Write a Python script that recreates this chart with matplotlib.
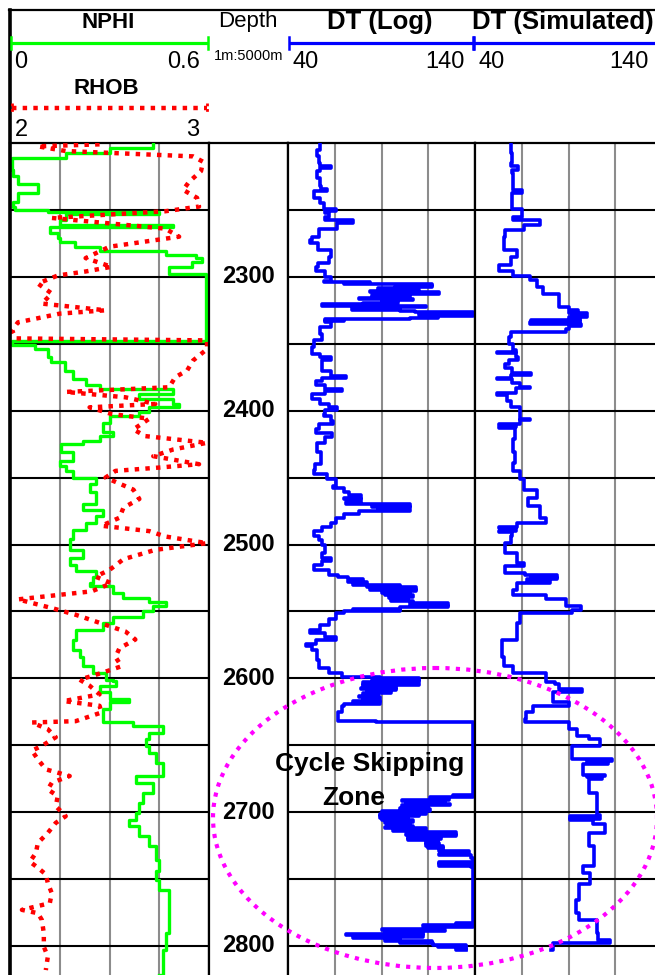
import matplotlib
matplotlib.use("Agg")
import matplotlib.pyplot as plt
from matplotlib.patches import Ellipse
from matplotlib.transforms import blended_transform_factory

plt.rcParams['font.family'] = ['Liberation Sans', 'DejaVu Sans']

# ---------------------------------------------------------------- data
# NPHI (v/v)
nphi_depth = [2201, 2204, 2207.5, 2211, 2220, 2225, 2231, 2237.5, 2244, 2247.5,
              2250, 2251.5, 2253, 2257.5, 2261, 2263, 2267.5, 2271, 2274, 2277.5,
              2281, 2284, 2286, 2289, 2292.5, 2296, 2298, 2347.5, 2348, 2351,
              2354, 2360, 2364, 2370, 2376, 2381, 2384, 2387.5, 2391, 2395,
              2397.5, 2401, 2404, 2409, 2416, 2419, 2422.5, 2425, 2431, 2437.5,
              2441, 2445, 2450, 2455, 2461, 2470, 2474, 2479, 2484, 2489,
              2496, 2504, 2510, 2515, 2520, 2524, 2529, 2531, 2536, 2540,
              2543, 2546, 2550, 2554, 2559, 2564, 2571, 2579, 2584, 2591,
              2596, 2601, 2602, 2605.5, 2610.5, 2615.5, 2618, 2623, 2628, 2633,
              2635.5, 2640.5, 2645.5, 2650.5, 2655.5, 2663, 2673, 2678, 2685.5, 2693,
              2700.5, 2705.5, 2710.5, 2718, 2725.5, 2735.5, 2744, 2750.5, 2758, 2770.5,
              2780.5, 2790.5, 2803, 2822]
nphi_value = [0.43, 0.30, 0.17, 0.005, 0.01, 0.025, 0.085, 0.025, 0.01, 0.015,
              0.115, 0.45, 0.17, 0.15, 0.49, 0.12, 0.145, 0.15, 0.195, 0.27,
              0.47, 0.56, 0.58, 0.55, 0.48, 0.48, 0.59, 0.59, 0.005, 0.075,
              0.115, 0.125, 0.165, 0.19, 0.23, 0.27, 0.49, 0.39, 0.49, 0.51,
              0.42, 0.39, 0.30, 0.28, 0.31, 0.27, 0.22, 0.155, 0.19, 0.15,
              0.17, 0.19, 0.26, 0.24, 0.26, 0.22, 0.28, 0.26, 0.23, 0.19,
              0.18, 0.22, 0.18, 0.20, 0.26, 0.25, 0.24, 0.31, 0.34, 0.42,
              0.47, 0.43, 0.40, 0.31, 0.28, 0.20, 0.19, 0.21, 0.22, 0.25,
              0.29, 0.31, 0.32, 0.27, 0.30, 0.36, 0.30, 0.28, 0.28, 0.37,
              0.46, 0.42, 0.41, 0.42, 0.44, 0.46, 0.38, 0.43, 0.40, 0.39,
              0.38, 0.36, 0.39, 0.42, 0.44, 0.45, 0.44, 0.45, 0.48, 0.48,
              0.48, 0.47, 0.46, 0.45]

# RHOB (g/cc)
rhob_depth = [2201, 2202.5, 2206, 2210, 2214, 2221, 2229, 2235, 2241, 2247.5,
              2251, 2256, 2264, 2270, 2277.5, 2286, 2292.5, 2296, 2299, 2305,
              2312.5, 2320, 2325, 2327.5, 2334, 2340, 2346, 2347.5, 2354, 2362.5,
              2370, 2375, 2382.5, 2386, 2390, 2395, 2397.5, 2402.5, 2406, 2414,
              2419, 2424, 2429, 2434, 2440, 2442.5, 2445, 2450, 2459, 2466,
              2472.5, 2480, 2486, 2490, 2494, 2499, 2504, 2511, 2519, 2524,
              2529, 2535, 2541, 2547.5, 2552.5, 2559, 2565, 2571, 2577.5, 2584,
              2591, 2596, 2601, 2605.5, 2612, 2617, 2620.5, 2625.5, 2632, 2633,
              2638, 2644, 2650.5, 2654, 2660.5, 2668, 2673, 2678, 2683, 2688,
              2695.5, 2703, 2708, 2715.5, 2723, 2730.5, 2737, 2741.5, 2746.5, 2753,
              2760.5, 2768, 2773, 2775.5, 2780.5, 2790.5, 2800.5, 2808, 2818]
rhob_value = [2.45, 2.14, 2.28, 2.92, 2.97, 2.96, 2.90, 2.87, 2.94, 2.95,
              2.78, 2.21, 2.78, 2.85, 2.50, 2.38, 2.51, 2.38, 2.24, 2.14,
              2.21, 2.16, 2.48, 2.25, 2.04, 2.01, 2.03, 2.99, 2.99, 2.92,
              2.89, 2.83, 2.80, 2.28, 2.58, 2.73, 2.40, 2.51, 2.70, 2.62,
              2.68, 2.99, 2.82, 2.72, 2.95, 2.75, 2.53, 2.48, 2.62, 2.65,
              2.57, 2.55, 2.46, 2.70, 2.78, 2.99, 2.73, 2.57, 2.50, 2.43,
              2.51, 2.41, 2.04, 2.21, 2.33, 2.46, 2.58, 2.63, 2.55, 2.53,
              2.56, 2.46, 2.35, 2.40, 2.45, 2.27, 2.45, 2.46, 2.33, 2.11,
              2.19, 2.23, 2.16, 2.11, 2.14, 2.18, 2.30, 2.21, 2.19, 2.24,
              2.23, 2.28, 2.23, 2.19, 2.14, 2.13, 2.10, 2.14, 2.18, 2.19,
              2.21, 2.20, 2.06, 2.14, 2.16, 2.17, 2.17, 2.19, 2.18]

# DT from the sonic log (us/ft)
dt_log_depth = [2201, 2205, 2210, 2215, 2217, 2219, 2221, 2226, 2232, 2234,
                2235.5, 2237.5, 2241, 2245, 2249, 2250.5, 2252.5, 2255.5, 2257.5, 2259.5,
                2261, 2264, 2270, 2272.5, 2275, 2280, 2285, 2290, 2292.5, 2296,
                2300, 2303, 2304, 2304.5, 2305, 2306, 2306.5, 2307.5, 2308.5, 2309.5,
                2310.5, 2311.5, 2312.5, 2313.5, 2314.5, 2315.5, 2316.5, 2317.5, 2318.5, 2319.5,
                2320.5, 2321.5, 2322.5, 2323.5, 2324.5, 2325.5, 2326.5, 2327.5, 2328.5, 2329.5,
                2330.5, 2331.5, 2332, 2333, 2334, 2337.5, 2342.5, 2347.5, 2352.5, 2357.5,
                2360, 2362, 2365, 2370, 2374, 2375.5, 2377.5, 2381, 2384, 2385.5,
                2387.5, 2391, 2395, 2397.5, 2399.5, 2402.5, 2404, 2408, 2410, 2414,
                2417, 2420, 2424, 2431, 2440, 2444, 2447.5, 2451, 2456, 2458,
                2461, 2463, 2465, 2466, 2468, 2470, 2471, 2472, 2473, 2474,
                2475, 2477, 2480, 2484, 2487, 2490, 2494, 2497, 2500, 2506,
                2510, 2512, 2515, 2519, 2522.5, 2524, 2526, 2527, 2528, 2529,
                2530, 2531, 2532, 2533, 2534, 2535, 2536, 2537, 2538, 2539,
                2540, 2541, 2542, 2543, 2544, 2545, 2546, 2547, 2548, 2549,
                2550, 2551, 2556, 2560, 2564, 2566, 2569, 2571, 2574, 2576,
                2579, 2586, 2592.5, 2596, 2599, 2600, 2601, 2602, 2603, 2604,
                2605, 2606, 2607, 2608, 2609, 2610, 2611, 2612, 2613, 2614,
                2615, 2616, 2617, 2618, 2619, 2620.5, 2625.5, 2630.5, 2632, 2633,
                2687, 2688, 2689, 2690, 2691, 2692, 2693, 2694, 2695, 2696,
                2697, 2698, 2699, 2700, 2701, 2702, 2703, 2704, 2705, 2706,
                2707, 2708, 2709, 2710, 2711, 2712, 2713, 2714, 2715, 2716,
                2717, 2718, 2719, 2720, 2721, 2722, 2723, 2724, 2725, 2726,
                2727, 2728, 2729, 2731, 2732, 2734, 2737, 2738, 2739, 2740,
                2741, 2783, 2784, 2785, 2786, 2787, 2788, 2789, 2790, 2791,
                2792, 2793, 2794, 2795, 2796, 2797, 2798, 2799, 2800, 2801,
                2802, 2803]
dt_log_value = [57, 55.5, 56.5, 57, 63, 57, 55.5, 57, 57.5, 61,
                54, 54, 57, 59, 65.5, 60, 62, 60, 75, 66,
                66, 56.5, 53, 52, 56, 63, 62, 56, 55, 60,
                63, 59, 84, 70, 117, 100, 117, 97, 88, 110,
                84, 121, 95, 85, 105, 78, 107, 90, 99, 80,
                58, 114, 100, 74, 100, 108, 139, 110, 139, 120,
                105, 60, 70, 60, 63, 57, 58, 54, 53, 57,
                63, 58, 58, 63, 71, 58, 55, 60, 69, 60,
                53, 57, 62, 66, 60, 59, 63, 64, 56.5, 55,
                63.5, 60, 55.5, 57.5, 54.5, 54, 61, 65.5, 64, 70,
                72.5, 79, 70, 79, 71, 105, 85, 105, 88, 105,
                78, 70, 65.5, 63, 58, 54, 56.5, 58, 60, 58,
                63, 58, 54, 62, 66.5, 72, 80, 72, 82.5, 75,
                100, 82, 108.5, 84, 108.5, 90, 105, 92, 107, 94,
                104, 95, 107, 105, 125.5, 105, 125.5, 100, 74.5, 100,
                70, 65.5, 62, 57, 52, 60, 65.5, 55, 49.5, 53,
                55.5, 56.5, 62, 69, 89, 110, 85, 110, 80, 110,
                80, 98, 79, 98, 82, 95, 80, 88, 78, 89,
                80, 89, 75, 89, 70, 69, 67, 66.5, 87, 139,
                128, 139, 116, 126, 101, 124, 103, 126.5, 101, 115,
                100, 116, 90, 114, 89, 110, 89, 104, 90, 107,
                92, 105, 93, 107, 92, 114, 96, 104, 130, 103,
                130, 104, 122, 104, 120, 114, 121, 114, 123, 115,
                123, 121, 137, 121, 138, 139, 121, 139, 121, 138,
                139, 130, 112, 139, 121, 90, 124, 92, 112, 71,
                112, 75, 100, 92, 117, 100, 117.5, 135, 120, 135,
                130, 135]

# DT predicted by the model (us/ft)
dt_sim_depth = [2201, 2207.5, 2215, 2217.5, 2220, 2222.5, 2235, 2237, 2249, 2255,
                2257.5, 2261, 2265, 2270, 2280, 2285, 2291, 2296, 2299.5, 2302.5,
                2307.5, 2312.5, 2322.5, 2325, 2326, 2327, 2328, 2329, 2330, 2331,
                2332, 2333, 2334, 2335, 2337, 2339, 2341, 2345, 2350, 2355,
                2356, 2357, 2360, 2362, 2365, 2368, 2372, 2373, 2375.5, 2376.5,
                2379, 2382, 2383, 2387, 2388, 2392.5, 2397.5, 2401, 2406, 2407,
                2410, 2411, 2412, 2413, 2421, 2431, 2439, 2445, 2451, 2459,
                2465, 2471, 2480, 2484, 2487, 2488, 2490, 2491, 2494, 2499,
                2506, 2514, 2516, 2521, 2523, 2524, 2525, 2526, 2527, 2529,
                2534, 2537.5, 2541, 2546, 2549, 2551, 2559, 2571, 2584, 2591,
                2596, 2602.5, 2604, 2608, 2610, 2618, 2620.5, 2625.5, 2630.5, 2633,
                2638, 2643, 2645.5, 2650.5, 2660.5, 2661.5, 2662.5, 2664, 2672, 2673,
                2674, 2675.5, 2685.5, 2697, 2702, 2703, 2704, 2705, 2706, 2709,
                2715.5, 2725.5, 2740.5, 2745.5, 2754, 2765.5, 2775.5, 2780.5, 2790.5, 2795.5,
                2798, 2803]
dt_sim_value = [59, 60, 59.5, 63, 60, 60.5, 65, 60, 65, 60.5,
                74.5, 66, 56, 55.5, 62.5, 59, 53, 60.5, 69.5, 73,
                76.5, 85, 90.5, 95, 90, 100, 92, 100, 90, 96,
                70, 96, 69.5, 96.5, 90, 88.5, 59, 58, 60.5, 62,
                52, 62, 63, 58, 56, 60, 70, 59, 52, 60,
                64, 69.5, 62, 52, 57, 59, 64, 64, 69.5, 64,
                53, 62, 53, 61.5, 60.5, 61.5, 60.5, 64, 66, 73,
                68.5, 74.5, 78, 62.5, 53, 62, 53, 60, 59, 56,
                62.5, 66, 56, 66.5, 84, 70, 84, 68, 80, 62.5,
                60.5, 78, 88.5, 96.5, 92, 64, 62.5, 54.5, 55.5, 60.5,
                78, 83, 85, 97, 81.5, 90, 71, 67.5, 66.5, 90,
                94.5, 101, 107, 92, 113, 100, 111, 98, 109.5, 100,
                108, 101, 105, 105, 107, 91, 107, 91, 103, 109.5,
                101, 103.5, 98, 101.5, 95.5, 94, 95.5, 105, 106, 112,
                81.5, 80.5]

depth_labels = [2300, 2400, 2500, 2600, 2700, 2800]
depth_grid = [2250, 2300, 2350, 2400, 2450, 2500, 2550, 2600, 2650, 2700, 2750, 2800]
nphi_range = (0, 0.6)
rhob_range = (2, 3)
dt_range = (40, 140)

# ---------------------------------------------------------------- layout
W, H = 655, 975
fig = plt.figure(figsize=(W / 100, H / 100), dpi=100)

TOP_DEPTH = 2200
PX_PER_M = (946 - 143) / 600.0
Y_DATA_TOP = 143
BASE_DEPTH = TOP_DEPTH + (H - Y_DATA_TOP) / PX_PER_M

X_T1 = (10, 209)
X_DEPTH = (209, 288)
X_DT = (288, 475)
X_SIM = (475, 662)

GREEN = '#00ff00'
BLUE = '#0000ff'
RED = '#ff0000'
GRID_GRAY = '#8c8c8c'


def track_axes(x0, x1):
    ax = fig.add_axes([x0 / W, 0, (x1 - x0) / W, (H - Y_DATA_TOP) / H])
    ax.set_ylim(BASE_DEPTH, TOP_DEPTH)
    ax.tick_params(left=False, bottom=False, top=False, right=False,
                   labelleft=False, labelbottom=False)
    for side in ('left', 'right', 'top'):
        ax.spines[side].set_color('black')
        ax.spines[side].set_linewidth(1.6)
    ax.spines['bottom'].set_visible(False)
    ax.set_axisbelow(True)
    return ax


def add_grid(ax, lo, hi):
    step = (hi - lo) / 4.0
    ax.set_xlim(lo, hi)
    ax.set_xticks([lo + step * i for i in range(1, 4)])
    ax.set_yticks(depth_grid)
    ax.grid(axis='x', color=GRID_GRAY, linewidth=1.5)
    ax.grid(axis='y', color='black', linewidth=1.5)


# Track 1: NPHI + RHOB
ax1 = track_axes(*X_T1)
add_grid(ax1, *nphi_range)
ax1.plot(nphi_value, nphi_depth, color=GREEN, linewidth=2.4,
         drawstyle='steps-pre', zorder=3)
ax1r = ax1.twiny()
ax1r.set_xlim(*rhob_range)
ax1r.set_ylim(BASE_DEPTH, TOP_DEPTH)
ax1r.axis('off')
ax1r.plot(rhob_value, rhob_depth, color=RED, linewidth=3.2,
          linestyle=(0, (1, 1.4)), zorder=4)

# Depth track
axd = track_axes(*X_DEPTH)
axd.set_xticks([])
axd.set_yticks([])
blend = blended_transform_factory(axd.transAxes, axd.transData)
for d in depth_labels:
    axd.text(0.5, d, str(d), transform=blend, ha='center', va='center',
             fontsize=17, fontweight='bold')

# Track 3: DT log
ax3 = track_axes(*X_DT)
add_grid(ax3, *dt_range)
ax3.plot(dt_log_value, dt_log_depth, color=BLUE, linewidth=2.6,
         drawstyle='steps-pre', zorder=3)

# Track 4: DT simulated
ax4 = track_axes(*X_SIM)
add_grid(ax4, *dt_range)
ax4.plot(dt_sim_value, dt_sim_depth, color=BLUE, linewidth=2.6,
         drawstyle='steps-pre', zorder=3)

# ---------------------------------------------------------------- header + annotations (pixel overlay)
hdr = fig.add_axes([0, 0, 1, 1], zorder=10)
hdr.set_xlim(0, W)
hdr.set_ylim(H, 0)
hdr.axis('off')
hdr.patch.set_alpha(0)

# frame
hdr.plot([9, W], [10, 10], color='black', linewidth=1.6)
hdr.plot([9.5, 9.5], [10, H], color='black', linewidth=2.6)


def scale_bar(x0, x1, y, color):
    hdr.plot([x0, x1], [y, y], color=color, linewidth=2.3, solid_capstyle='butt')
    for x in (x0, x1):
        hdr.plot([x, x], [y - 6, y + 6], color=color, linewidth=1.8)


scale_bar(X_T1[0] + 1, X_T1[1] - 1, 42.5, GREEN)
scale_bar(X_DT[0] + 1, X_DT[1] - 2, 42.5, BLUE)
scale_bar(X_SIM[0] - 1, X_SIM[1], 42.5, BLUE)

hdr.plot([X_T1[0] + 2, X_T1[1] - 2], [108, 108], color=RED, linewidth=3.2,
         linestyle=(0, (1, 1.4)))
for x in (X_T1[0] + 2, X_T1[1] - 2):
    hdr.plot([x, x], [103, 113], color=RED, linewidth=2.0, linestyle=(0, (1, 1)))

bold = dict(fontweight='bold', ha='center', va='center')
plain = dict(ha='center', va='center')
hdr.text(108, 22, 'NPHI', fontsize=16, **bold)
hdr.text(248, 22, 'Depth', fontsize=16, **plain)
hdr.text(249, 56, '1m:5000m', fontsize=10.5, **plain)
hdr.text(380, 22, 'DT (Log)', fontsize=18.5, **bold)
hdr.text(563, 22, 'DT (Simulated)', fontsize=18.5, **bold)
hdr.text(106, 89, 'RHOB', fontsize=16, **bold)

hdr.text(21, 62, f'{nphi_range[0]:g}', fontsize=17, **plain)
hdr.text(184, 62, f'{nphi_range[1]:g}', fontsize=17, **plain)
hdr.text(306, 62, f'{dt_range[0]:g}', fontsize=17, **plain)
hdr.text(445, 62, f'{dt_range[1]:g}', fontsize=17, **plain)
hdr.text(492, 62, f'{dt_range[0]:g}', fontsize=17, **plain)
hdr.text(629, 62, f'{dt_range[1]:g}', fontsize=17, **plain)
hdr.text(21, 130, f'{rhob_range[0]:g}', fontsize=17, **plain)
hdr.text(193, 130, f'{rhob_range[1]:g}', fontsize=17, **plain)

# cycle-skipping zone
hdr.add_patch(Ellipse((435, 818), 444, 300, fill=False, edgecolor='#ff00ff',
                      linewidth=3.0, linestyle=(0, (1, 1.5))))
hdr.text(370, 764, 'Cycle Skipping', fontsize=19, **bold)
hdr.text(354, 798, 'Zone', fontsize=19, **bold)

fig.savefig('out.png', dpi=100)
